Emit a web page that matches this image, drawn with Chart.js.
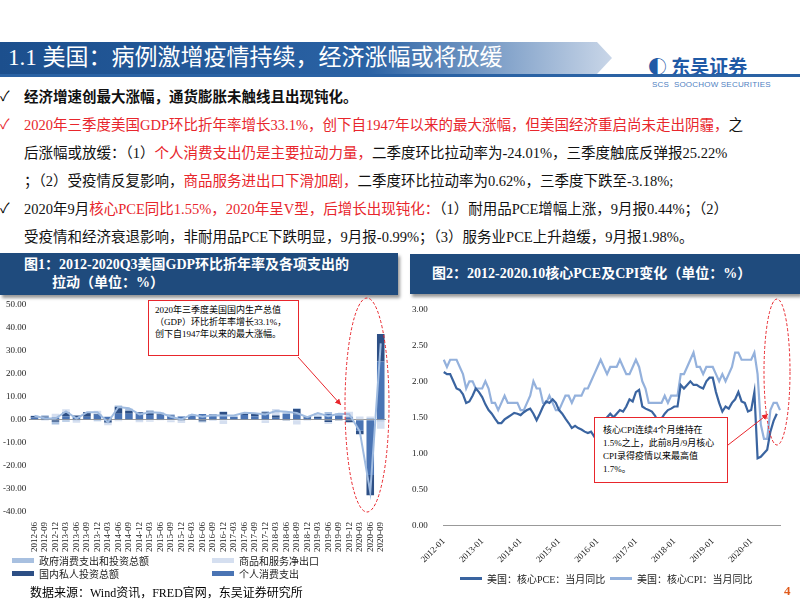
<!DOCTYPE html>
<html><head><meta charset="utf-8">
<script src="https://cdn.jsdelivr.net/npm/chart.js@4.4.0/dist/chart.umd.min.js"></script>
<style>
body{margin:0;width:800px;height:600px;background:#fff;position:relative;overflow:hidden;font-family:"Liberation Serif","Noto Sans CJK SC",serif;}
.abs{position:absolute;}
#title{left:0;top:42px;width:612px;height:32px;background:linear-gradient(90deg,#1c4f8d 0%,#2a62a4 60%,#c9d6e8 100%);clip-path:polygon(0 0,597px 0,612px 16px,597px 32px,0 32px);color:#fff;font-size:23px;line-height:32px;padding-left:8px;box-sizing:border-box;}
#rule{left:0;top:74px;width:800px;height:3px;background:#2a62a4;}
.txt{left:8px;font-size:14.5px;line-height:28px;width:790px;color:#111;white-space:nowrap;}
.red{color:#e8262c;}
.cap{background:#1f4b7d;color:#fff;font-weight:bold;font-size:14px;box-shadow:2px 3px 3px #999;}
.leg{font-size:10px;color:#222;display:flex;align-items:center;}
.sw{display:inline-block;width:22px;height:5px;margin-right:5px;}
</style></head><body>
<div id="title" class="abs">1.1 美国：病例激增疫情持续，经济涨幅或将放缓</div>
<div class="abs" style="left:648px;top:52px;color:#1f5aa6;font-weight:bold;font-size:19px;font-family:'Noto Sans CJK SC';">◐ 东吴证券</div>
<div class="abs" style="left:652px;top:80px;color:#4f7fbf;font-size:8px;font-family:'Liberation Sans';letter-spacing:0.2px;">SCS&nbsp;&nbsp;SOOCHOW SECURITIES</div>
<div id="rule" class="abs"></div>
<div class="abs" style="left:0;top:83px;font-size:14px;line-height:28px;">✓<br><span class="red">✓</span><br><br><br>✓</div>
<div class="abs txt" style="left:24px;top:83px;font-weight:bold;">经济增速创最大涨幅，通货膨胀未触线且出现钝化。</div>
<div class="abs txt" style="left:24px;top:111px;"><span class="red">2020年三季度美国GDP环比折年率增长33.1%，创下自1947年以来的最大涨幅，但美国经济重启尚未走出阴霾，</span>之</div>
<div class="abs txt" style="left:24px;top:139px;">后涨幅或放缓：（1）<span class="red">个人消费支出仍是主要拉动力量，</span>二季度环比拉动率为-24.01%，三季度触底反弹报25.22%</div>
<div class="abs txt" style="left:24px;top:167px;">；（2）受疫情反复影响，<span class="red">商品服务进出口下滑加剧，</span>二季度环比拉动率为0.62%，三季度下跌至-3.18%;</div>
<div class="abs txt" style="left:24px;top:195px;">2020年9月<span class="red">核心PCE同比1.55%，2020年呈V型，后增长出现钝化：</span>（1）耐用品PCE增幅上涨，9月报0.44%；（2）</div>
<div class="abs txt" style="left:24px;top:223px;">受疫情和经济衰退影响，非耐用品PCE下跌明显，9月报-0.99%；（3）服务业PCE上升趋缓，9月报1.98%。</div>
<div class="abs cap" style="left:0;top:253px;width:398px;height:42px;padding:3px 0 0 24px;box-sizing:border-box;line-height:18px;">图1：2012-2020Q3美国GDP环比折年率及各项支出的<br>&nbsp;&nbsp;&nbsp;&nbsp;&nbsp;&nbsp;&nbsp;&nbsp;拉动（单位：%）</div>
<div class="abs cap" style="left:410px;top:254px;width:390px;height:40px;padding-left:22px;box-sizing:border-box;line-height:40px;">图2：2012-2020.10核心PCE及CPI变化（单位：%）</div>
<div class="abs" style="left:0;top:296px;width:400px;height:258px;"><canvas id="c1"></canvas></div>
<div class="abs" style="left:400px;top:296px;width:400px;height:272px;"><canvas id="c2"></canvas></div>
<div class="abs leg" style="left:12px;top:553px;"><span class="sw" style="background:#a8c0e0"></span>政府消费支出和投资总额</div>
<div class="abs leg" style="left:212px;top:553px;"><span class="sw" style="background:#d5dff0"></span>商品和服务净出口</div>
<div class="abs leg" style="left:12px;top:566px;"><span class="sw" style="background:#2d4f85"></span>国内私人投资总额</div>
<div class="abs leg" style="left:212px;top:566px;"><span class="sw" style="background:#4a74b4"></span>个人消费支出</div>
<div class="abs leg" style="left:460px;top:571px;"><span class="sw" style="background:#3a64a0;height:3px"></span>美国：核心PCE：当月同比</div>
<div class="abs leg" style="left:610px;top:571px;"><span class="sw" style="background:#94b1dc;height:3px"></span>美国：核心CPI：当月同比</div>
<div class="abs" style="left:30px;top:583px;font-size:12px;">数据来源：Wind资讯，FRED官网，东吴证券研究所</div>
<div class="abs" style="left:784px;top:583px;font-size:13px;color:#e05a1a;font-weight:bold;">4</div>
<div class="abs" style="left:148px;top:300px;width:151px;height:56px;border:1px solid #e8262c;background:#fff;font-size:9px;line-height:12px;padding:3px 6px;box-sizing:border-box;">2020年三季度美国国内生产总值（GDP）环比折年率增长33.1%，创下自1947年以来的最大涨幅。</div>
<div class="abs" style="left:594px;top:417px;width:134px;height:66px;border:1px solid #e8262c;background:#fff;font-size:9px;line-height:13px;padding:6px 8px;box-sizing:border-box;">核心CPI连续4个月维持在1.5%之上，此前8月/9月核心CPI录得疫情以来最高值1.7%。</div>
<svg class="abs" style="left:0;top:0" width="800" height="600">
<defs><marker id="ar" markerWidth="8" markerHeight="8" refX="6" refY="3" orient="auto"><path d="M0,0 L6,3 L0,6 z" fill="#e8262c"/></marker></defs>
<ellipse cx="367" cy="405" rx="22" ry="107" fill="none" stroke="#e8262c" stroke-dasharray="3,2"/>
<ellipse cx="777" cy="372" rx="13" ry="73" fill="none" stroke="#e8262c" stroke-dasharray="3,2"/>
<line x1="298" y1="357" x2="341" y2="405" stroke="#e8262c" marker-end="url(#ar)"/>
<line x1="728" y1="445" x2="768" y2="414" stroke="#e8262c" marker-end="url(#ar)"/>
</svg>
<script>
const qLabels=["2012-06","2012-09","2012-12","2013-03","2013-06","2013-09","2013-12","2014-03","2014-06","2014-09","2014-12","2015-03","2015-06","2015-09","2015-12","2016-03","2016-06","2016-09","2016-12","2017-03","2017-06","2017-09","2017-12","2018-03","2018-06","2018-09","2018-12","2019-03","2019-06","2019-09","2019-12","2020-03","2020-06","2020-09"];
const gdp=[1.7,0.5,0.5,3.6,0.5,3.2,3.2,-1.1,5.5,5.0,2.3,3.2,3.0,1.3,0.1,2.3,1.3,1.9,1.8,1.8,3.0,2.8,2.3,3.8,3.5,2.9,1.1,2.9,1.5,2.6,2.4,-5.0,-31.4,33.1];
const pce=[1.0,1.2,1.0,1.5,1.2,1.3,2.2,1.3,2.6,2.6,3.0,2.0,2.2,1.8,1.4,1.7,2.5,1.9,1.8,1.3,2.0,1.5,2.6,0.9,2.5,2.3,0.9,0.8,2.5,1.8,1.1,-4.75,-24.01,25.22];
const inv=[0.6,0.2,-0.9,1.6,0.6,2.0,0.3,-1.2,3.0,1.3,0.4,1.6,0.3,0.2,-0.3,-0.2,-0.7,0.4,1.6,0.0,0.6,1.1,0.6,0.9,-0.1,2.3,0.6,0.4,-1.0,-0.3,-1.1,-1.56,-8.77,12.0];
const gov=[-0.2,0.5,-1.2,-0.9,-0.1,0.1,-0.7,-0.2,0.6,0.8,-0.1,0.5,0.6,0.4,0.1,0.5,-0.4,0.2,0.2,0.1,0.0,0.0,0.5,0.3,0.4,0.4,0.0,0.5,0.8,0.3,0.4,0.23,0.77,-0.74];
const nex=[0.3,-0.4,1.6,1.4,-1.2,-0.2,1.4,-1.0,-0.7,0.3,-1.0,-0.9,-0.1,-1.1,-1.1,0.3,-0.1,-0.6,-1.8,0.4,0.4,0.2,-1.4,2.5,0.7,-2.1,-0.4,1.2,-0.8,0.8,2.0,1.13,0.62,-3.18];
const yTicks1=[-40,-30,-20,-10,0,10,20,30,40,50];

const months=[];for(let y=2012;y<=2020;y++)for(let m=1;m<=12;m++){if(y===2020&&m>10)break;months.push(y+"-"+String(m).padStart(2,"0"));}
const corePCE=[2.13,2.10,2.10,2.00,1.90,1.88,1.82,1.70,1.72,1.80,1.90,1.85,
1.78,1.68,1.60,1.55,1.48,1.42,1.42,1.47,1.50,1.53,1.56,1.55,
1.53,1.57,1.60,1.62,1.55,1.46,1.55,1.65,1.72,1.70,1.75,1.70,
1.60,1.55,1.48,1.42,1.35,1.38,1.35,1.33,1.30,1.28,1.30,1.23,
1.28,1.22,1.25,1.50,1.55,1.50,1.55,1.60,1.58,1.65,1.75,1.72,
1.85,1.88,1.65,1.62,1.60,1.58,1.52,1.42,1.48,1.55,1.60,1.62,
1.65,1.65,1.95,1.90,1.95,2.00,1.95,1.95,1.92,1.90,2.00,2.05,
2.05,1.85,1.70,1.58,1.65,1.62,1.70,1.75,1.85,1.72,1.70,1.58,
1.60,1.85,0.93,0.95,1.00,1.05,1.30,1.45,1.55];
const coreCPI=[2.3,2.2,2.3,2.3,2.3,2.2,2.1,1.9,2.0,2.0,1.9,1.9,
1.9,2.0,1.9,1.7,1.7,1.6,1.7,1.8,1.7,1.7,1.7,1.7,
1.6,1.6,1.7,1.8,2.0,1.9,1.9,1.7,1.7,1.8,1.7,1.6,
1.6,1.7,1.8,1.8,1.7,1.8,1.8,1.8,1.9,1.9,2.0,2.1,
2.2,2.3,2.2,2.1,2.2,2.2,2.2,2.3,2.2,2.1,2.1,2.2,
2.3,2.2,2.0,1.9,1.7,1.7,1.7,1.7,1.7,1.8,1.7,1.8,
1.8,1.8,2.1,2.1,2.2,2.3,2.4,2.2,2.2,2.1,2.2,2.2,
2.2,2.1,2.0,2.1,2.0,2.1,2.2,2.4,2.4,2.3,2.3,2.3,
2.3,2.4,2.1,1.4,1.2,1.2,1.6,1.7,1.7,1.6];

const F={family:"'Liberation Serif','Noto Sans CJK SC'",size:9};
new Chart(document.getElementById('c1'),{type:'bar',data:{labels:qLabels,datasets:[
{label:'个人消费支出',data:pce,backgroundColor:'#4a74b4',stack:'a',order:2},
{label:'国内私人投资总额',data:inv,backgroundColor:'#2d4f85',stack:'a',order:2},
{label:'政府消费支出和投资总额',data:gov,backgroundColor:'#a8c0e0',stack:'a',order:2},
{label:'商品和服务净出口',data:nex,backgroundColor:'#d5dff0',stack:'a',order:2},
{type:'line',label:'GDP',data:gdp,borderColor:'#9fbbe0',borderWidth:2,pointRadius:0,stack:'g',order:1}
]},options:{responsive:true,maintainAspectRatio:false,animation:false,layout:{padding:{top:6,right:14,left:0,bottom:0}},
plugins:{legend:{display:false},tooltip:{enabled:false}},
scales:{x:{stacked:true,categoryPercentage:0.8,barPercentage:0.35,grid:{display:false},border:{display:false},ticks:{font:F,color:'#222',minRotation:90,maxRotation:90,autoSkip:false,padding:2}},
y:{stacked:true,min:-40,max:50,afterBuildTicks:s=>{s.ticks=yTicks1.map(v=>({value:v}));},
ticks:{font:F,color:'#222',callback:v=>v.toFixed(2)},border:{display:false},grid:{drawTicks:false,color:c=>c.tick&&c.tick.value===0?'#999':'transparent'}}}}});

new Chart(document.getElementById('c2'),{type:'line',data:{labels:months,datasets:[
{label:'美国：核心PCE：当月同比',data:corePCE,borderColor:'#3a64a0',borderWidth:2.2,pointRadius:0,tension:0},
{label:'美国：核心CPI：当月同比',data:coreCPI,borderColor:'#94b1dc',borderWidth:2.2,pointRadius:0,tension:0}
]},options:{responsive:true,maintainAspectRatio:false,animation:false,layout:{padding:{top:12,right:20,left:4,bottom:0}},
plugins:{legend:{display:false},tooltip:{enabled:false}},
scales:{x:{grid:{display:false},border:{color:'#999'},ticks:{font:F,color:'#222',autoSkip:false,minRotation:45,maxRotation:45,callback:function(v,i){const l=months[i];return l.endsWith('-01')?l:null;}}},
y:{min:0,max:3,ticks:{stepSize:0.5,font:F,color:'#222',padding:8,callback:v=>v.toFixed(2)},border:{display:false},grid:{display:false}}}}});
</script>
</body></html>
